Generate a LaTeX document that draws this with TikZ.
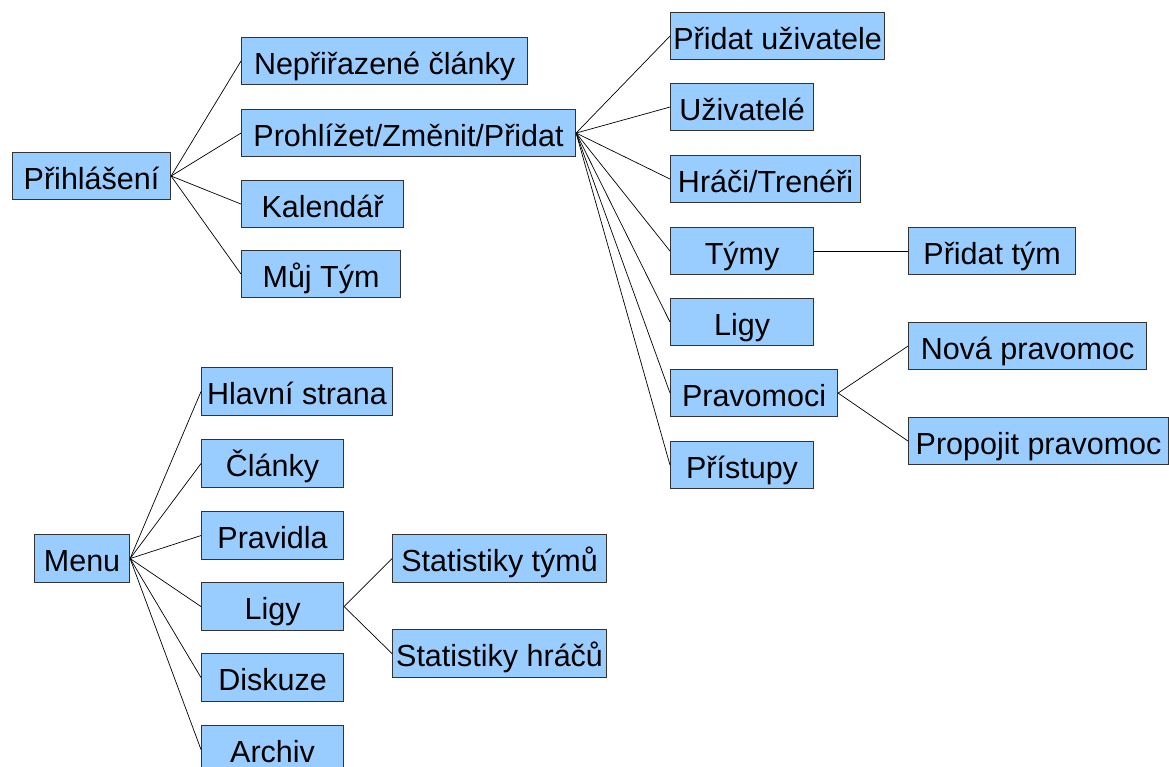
\documentclass[tikz,border=0pt]{standalone}
\usepackage{fontspec}
\setmainfont{Liberation Sans}
\definecolor{boxfill}{HTML}{99CCFF}
\definecolor{boxline}{HTML}{333333}
\begin{document}
\begin{tikzpicture}[x=1pt,y=-1pt,
  box/.style={draw=boxline, line width=1.1pt, fill=boxfill, anchor=north west,
    inner sep=0pt, minimum height=47pt, align=center,
    font=\fontsize{30.5}{34}\selectfont, text height=30pt, text depth=3.4pt},
  link/.style={draw=black, line width=0.7pt}]
\useasboundingbox (0,0) rectangle (1169,767);
% top-left group
\node[box, minimum width=158pt] (prih) at (12,152) {Přihlášení};
\node[box, minimum width=286pt] (nepr) at (241,37) {Nepřiřazené články};
\node[box, minimum width=334pt] (proh) at (241,109) {Prohlížet/Změnit/Přidat};
\node[box, minimum width=162pt] (kal) at (241,180) {Kalendář};
\node[box, minimum width=159pt] (muj) at (241,250) {Můj Tým};
% right group
\node[box, minimum width=214pt] (padu) at (670,12) {Přidat uživatele};
\node[box, minimum width=143pt] (uziv) at (670,83) {Uživatelé};
\node[box, minimum width=190pt] (hrac) at (670,155) {Hráči/Trenéři};
\node[box, minimum width=143pt] (tymy) at (670,227) {Týmy};
\node[box, minimum width=143pt] (ligya) at (670,298) {Ligy};
\node[box, minimum width=167pt] (prav) at (670,369) {Pravomoci};
\node[box, minimum width=143pt] (pris) at (670,441) {Přístupy};
\node[box, minimum width=167pt] (ptym) at (908,227) {Přidat tým};
\node[box, minimum width=238pt] (nova) at (908,322) {Nová pravomoc};
\node[box, minimum width=260pt] (prop) at (908,417) {Propojit pravomoc};
% bottom group
\node[box, minimum width=95pt, minimum height=48pt] (menu) at (34,534) {Menu};
\node[box, minimum width=191pt, minimum height=48pt] (hlav) at (201,367) {Hlavní strana};
\node[box, minimum width=142pt, minimum height=48pt] (clan) at (201,439) {Články};
\node[box, minimum width=142pt, minimum height=48pt] (pravid) at (201,511) {Pravidla};
\node[box, minimum width=142pt, minimum height=48pt] (ligyb) at (201,582) {Ligy};
\node[box, minimum width=142pt, minimum height=48pt] (disk) at (201,653) {Diskuze};
\node[box, minimum width=142pt, minimum height=48pt] (arch) at (201,725) {Archiv};
\node[box, minimum width=214pt, minimum height=48pt] (stt) at (392,534) {Statistiky týmů};
\node[box, minimum width=214pt, minimum height=48pt] (sth) at (392,629) {Statistiky hráčů};
% connectors
\foreach \c in {nepr,proh,kal,muj} \draw[link] (prih.east) -- (\c.west);
\foreach \c in {padu,uziv,hrac,tymy,ligya,prav,pris} \draw[link] (proh.east) -- (\c.west);
\draw[link] (tymy.east) -- (ptym.west);
\foreach \c in {nova,prop} \draw[link] (prav.east) -- (\c.west);
\foreach \c in {hlav,clan,pravid,ligyb,disk,arch} \draw[link] (menu.east) -- (\c.west);
\foreach \c in {stt,sth} \draw[link] (ligyb.east) -- (\c.west);
\end{tikzpicture}
\end{document}
